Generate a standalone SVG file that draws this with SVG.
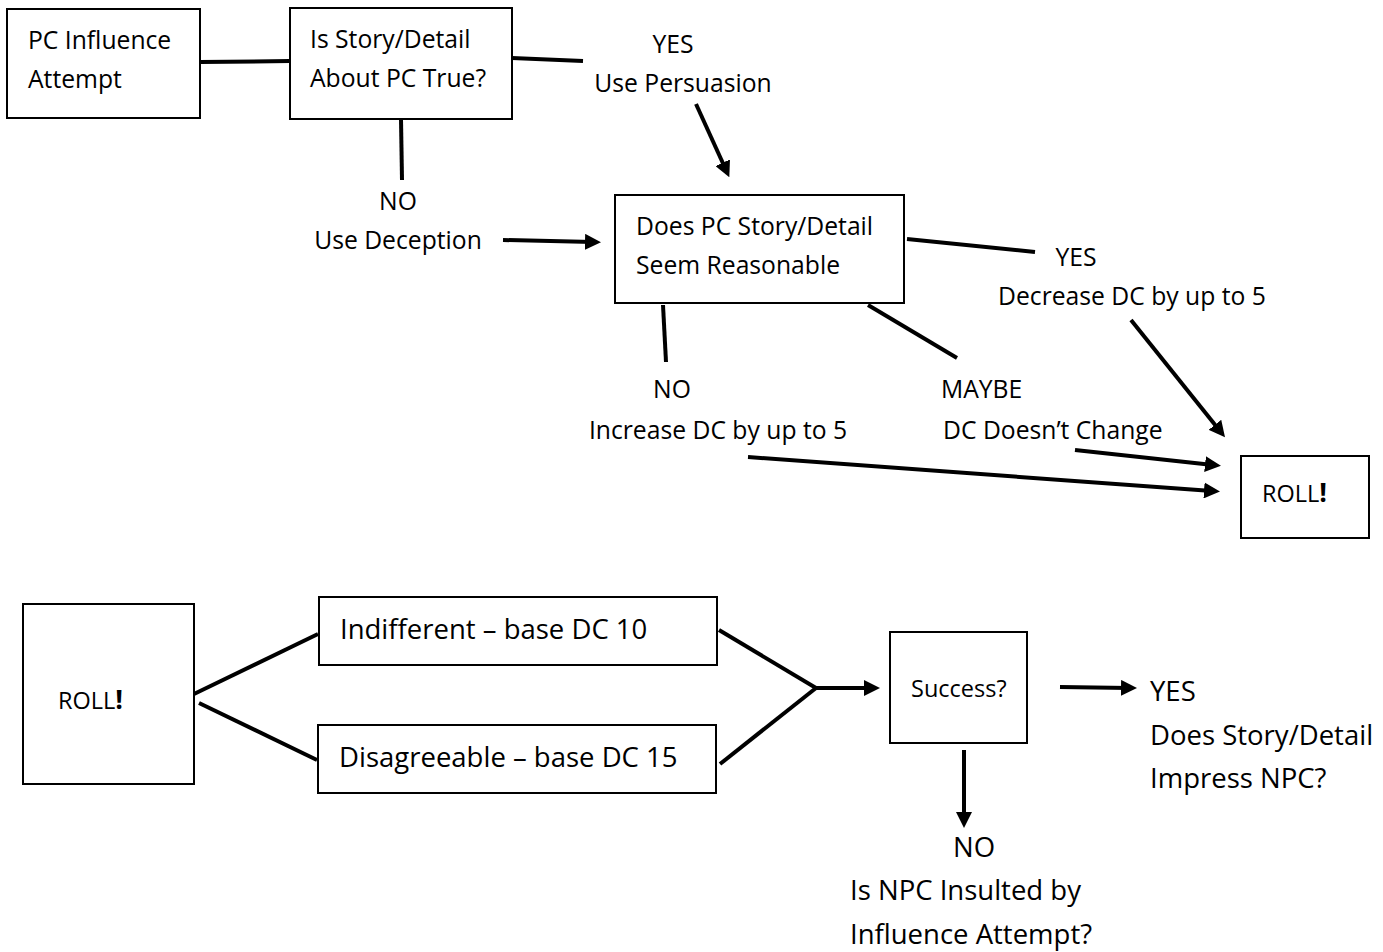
<svg xmlns="http://www.w3.org/2000/svg" width="1383" height="952" viewBox="0 0 1383 952">
<style>
.box{fill:#fff;stroke:#000;stroke-width:2}
.ln{stroke:#000;stroke-width:4;fill:none}
.arr{stroke:#000;stroke-width:4;fill:none;marker-end:url(#ah)}
text{font-family:"Open Sans","Noto Sans",sans-serif;fill:#000}
.t{font-size:24.7px}
.m{font-size:23.5px}
.l{font-size:27.5px}
.b{font-size:27.5px}
</style>
<defs>
<marker id="ah" markerWidth="4" markerHeight="4" refX="2" refY="2" orient="auto" markerUnits="strokeWidth">
<path d="M0,0 L4,2 L0,4 Z" fill="#000"/>
</marker>
</defs>
<rect width="1383" height="952" fill="#fff"/>
<g id="connectors">
<line class="ln" x1="200" y1="62" x2="290" y2="61"/>
<line class="ln" x1="512" y1="58" x2="583" y2="61"/>
<line class="ln" x1="401" y1="119" x2="402" y2="180"/>
<line class="arr" x1="696" y1="104" x2="726" y2="170"/>
<line class="arr" x1="503" y1="240" x2="593" y2="242"/>
<line class="ln" x1="907" y1="239" x2="1035" y2="252"/>
<line class="arr" x1="1131" y1="320" x2="1220" y2="431"/>
<line class="ln" x1="663" y1="305" x2="666" y2="362"/>
<line class="ln" x1="868" y1="305" x2="957" y2="358"/>
<line class="arr" x1="1075" y1="450" x2="1213" y2="465"/>
<line class="arr" x1="748" y1="457" x2="1212" y2="491"/>
<line class="ln" x1="194" y1="694" x2="318" y2="634"/>
<line class="ln" x1="199" y1="703" x2="317" y2="760"/>
<line class="ln" x1="719" y1="630" x2="816" y2="688"/>
<line class="ln" x1="720" y1="764" x2="816" y2="688"/>
<line class="arr" x1="816" y1="688" x2="872" y2="688"/>
<line class="arr" x1="1060" y1="687" x2="1129" y2="688"/>
<line class="arr" x1="964" y1="750" x2="964" y2="820"/>
</g>
<g id="n1"><rect class="box" x="7" y="9" width="193" height="109"/>
<text class="t" x="28" y="49">PC Influence</text><text class="t" x="28" y="88">Attempt</text></g>
<g id="n2"><rect class="box" x="290" y="8" width="222" height="111"/>
<text class="t" x="310" y="48">Is Story/Detail</text><text class="t" x="310" y="87">About PC True?</text></g>
<g id="l1"><text class="t" x="673" y="53" text-anchor="middle">YES</text><text class="t" x="683" y="92" text-anchor="middle">Use Persuasion</text></g>
<g id="l2"><text class="t" x="398" y="210" text-anchor="middle">NO</text><text class="t" x="398" y="249" text-anchor="middle">Use Deception</text></g>
<g id="n3"><rect class="box" x="615" y="195" width="289" height="108"/>
<text class="t" x="636" y="235">Does PC Story/Detail</text><text class="t" x="636" y="274">Seem Reasonable</text></g>
<g id="l3"><text class="t" x="1076" y="266" text-anchor="middle">YES</text><text class="t" x="1132" y="305" text-anchor="middle">Decrease DC by up to 5</text></g>
<g id="l4"><text class="t" x="672" y="398" text-anchor="middle">NO</text><text class="t" x="718" y="439" text-anchor="middle">Increase DC by up to 5</text></g>
<g id="l5"><text class="t" x="941" y="398">MAYBE</text><text class="t" x="943" y="439">DC Doesn’t Change</text></g>
<g id="n4"><rect class="box" x="1241" y="456" width="128" height="82"/>
<text class="m" x="1262" y="502">ROLL<tspan font-weight="bold" font-size="27">!</tspan></text></g>
<g id="n5"><rect class="box" x="23" y="604" width="171" height="180"/>
<text class="m" x="58" y="709">ROLL<tspan font-weight="bold" font-size="27">!</tspan></text></g>
<g id="n6"><rect class="box" x="319" y="597" width="398" height="68"/>
<text class="l" x="340" y="639">Indifferent – base DC 10</text></g>
<g id="n7"><rect class="box" x="318" y="725" width="398" height="68"/>
<text class="l" x="339" y="767">Disagreeable – base DC 15</text></g>
<g id="n8"><rect class="box" x="890" y="632" width="137" height="111"/>
<text class="m" x="911" y="697">Success?</text></g>
<g id="l6"><text class="b" x="1150" y="701">YES</text><text class="b" x="1150" y="745">Does Story/Detail</text><text class="b" x="1150" y="788">Impress NPC?</text></g>
<g id="l7"><text class="b" x="974" y="857" text-anchor="middle">NO</text><text class="b" x="850" y="900">Is NPC Insulted by</text><text class="b" x="850" y="944">Influence Attempt?</text></g>
</svg>
